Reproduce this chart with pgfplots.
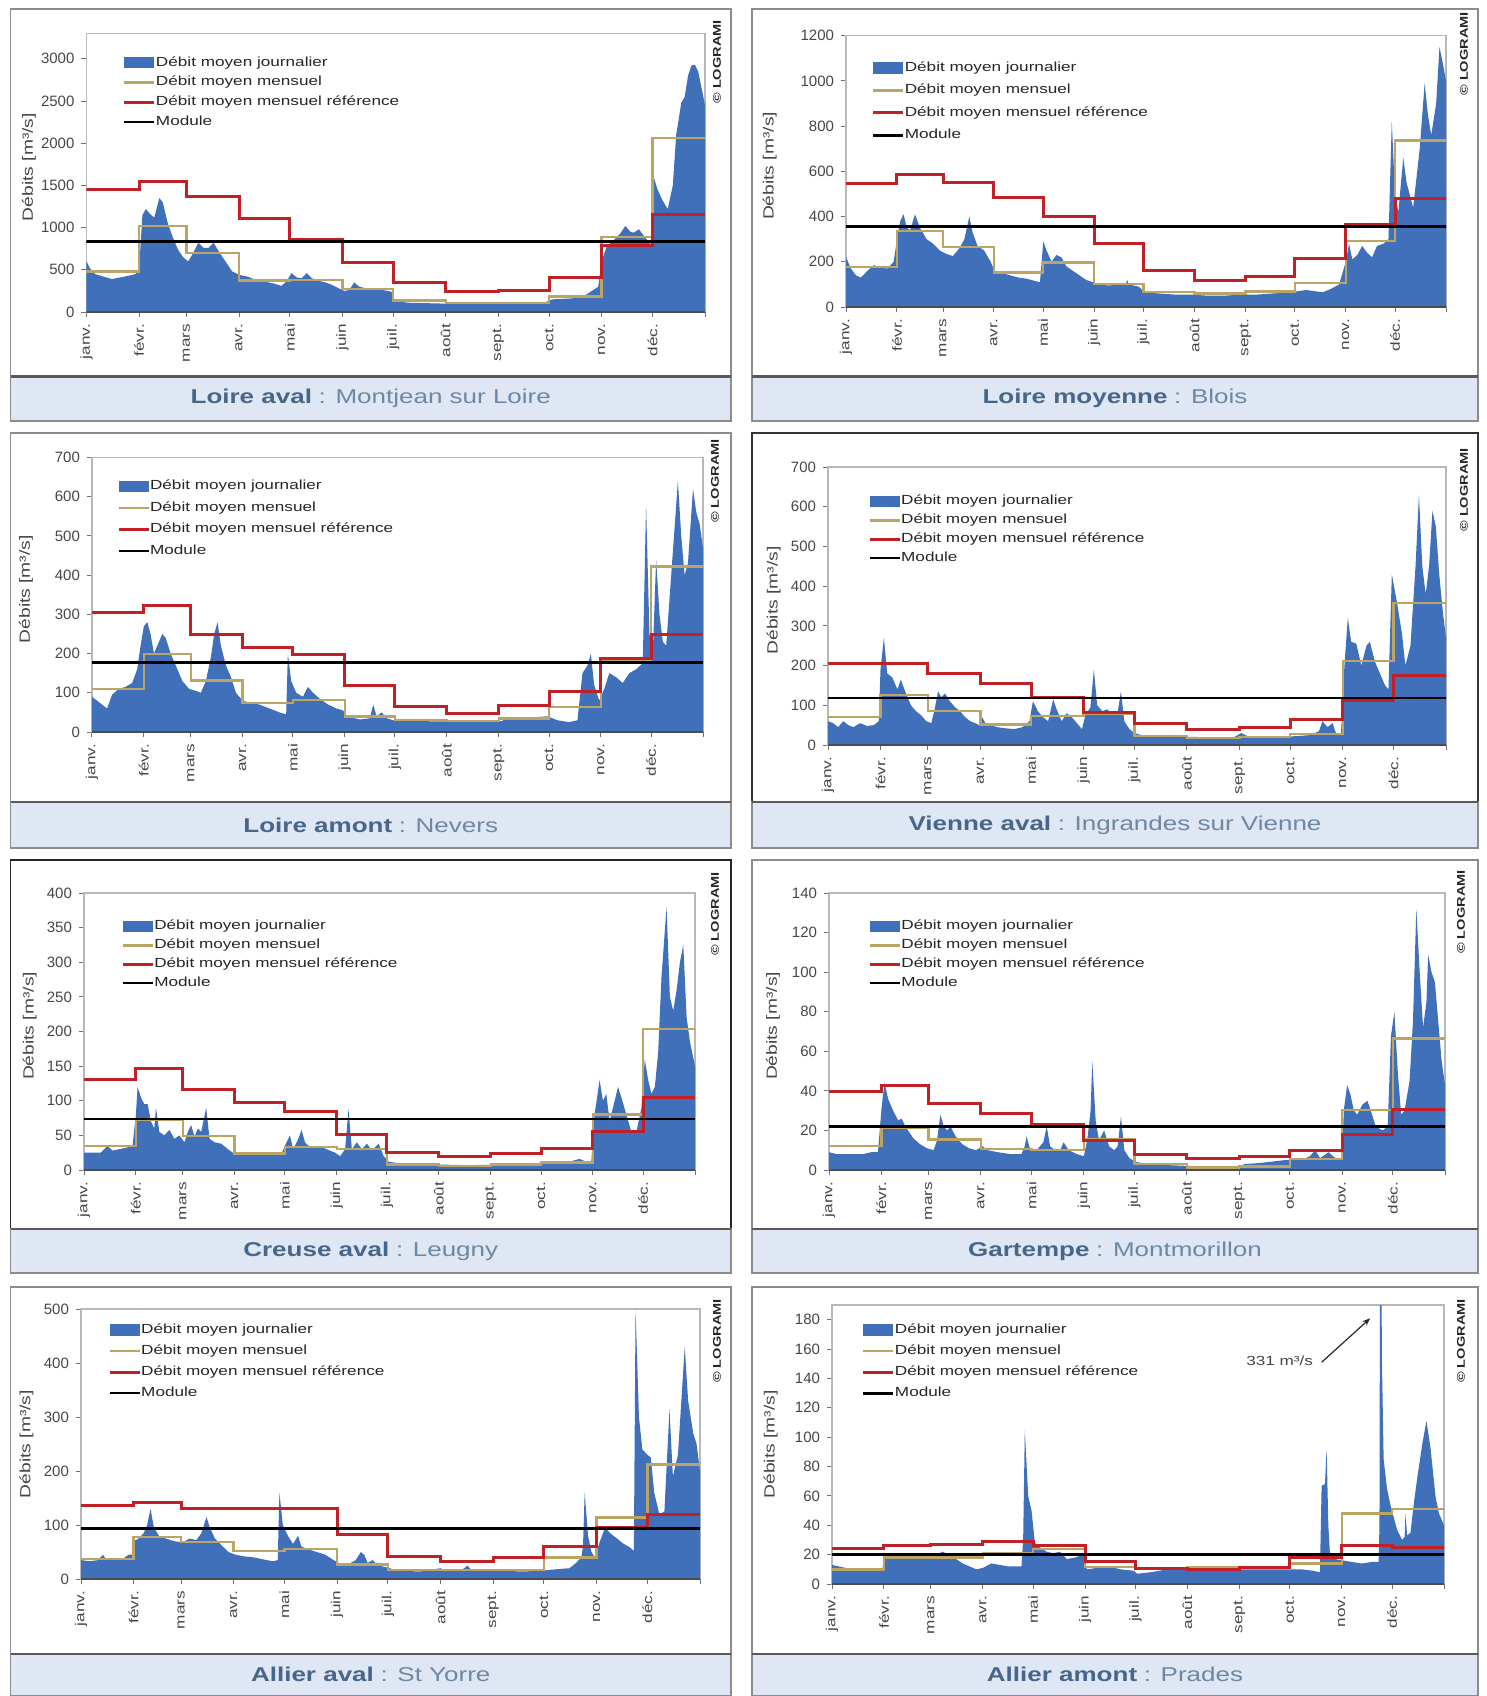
\documentclass[border=0pt]{standalone}
\usepackage{fontspec}
\setmainfont{Liberation Sans}
\newfontfamily\wf[FakeStretch=1.3]{Liberation Sans}
\usepackage{pgfplots}
\pgfplotsset{compat=1.18}
\usetikzlibrary{arrows.meta}
\definecolor{areablue}{RGB}{64,112,186}
\definecolor{khakiL}{RGB}{188,164,100}
\definecolor{refred}{RGB}{192,32,38}
\definecolor{framegray}{RGB}{140,140,140}
\definecolor{titlefill}{RGB}{222,231,243}
\definecolor{ttlA}{RGB}{72,102,138}
\definecolor{ttlB}{RGB}{110,135,162}
\definecolor{txt}{RGB}{70,70,70}
\pgfplotsset{
 flow/.style={
  scale only axis, xmin=0, xmax=365, ymin=0,
  axis line style={draw=black!28, line width=0.8pt},
  xtick={0,31,59,90,120,151,181,212,243,273,304,334},
  xticklabels={janv.,févr.,mars,avr.,mai,juin,juil.,août,sept.,oct.,nov.,déc.},
  extra x ticks={365}, extra x tick labels={},
  xtick pos=bottom, ytick pos=left, tick align=outside,
  major tick length=2.5pt,
  tick style={draw=black!55, line width=0.5pt},
  xticklabel style={rotate=90, anchor=east, font=\wf\fontsize{6.6}{7}\selectfont, text=txt},
  yticklabel style={font=\fontsize{7.5}{8}\selectfont, text=txt},
  /pgf/number format/assume math mode=true,
  /pgf/number format/1000 sep={},
  ylabel={Débits [m³/s]},
  every axis y label/.style={rotate=90, anchor=center, font=\wf\fontsize{7.4}{8}\selectfont, text=txt},
  legend cell align=left,
  legend style={draw=none, fill=none, anchor=north west, inner sep=0pt, outer sep=0pt,
    font=\wf\fontsize{6.6}{7.5}\selectfont, text=black!85, nodes={inner sep=0pt, outer sep=0pt}},
  legend image code/.code={\draw[##1] (0pt,0pt) -- (15pt,0pt);},
 },
 area/.style={fill=areablue, draw=none, legend image code/.code={\fill[areablue] (0pt,-2.9pt) rectangle (15pt,2.9pt);}},
 mmean/.style={draw=khakiL, line width=1.2pt, const plot, no marks},
 mref/.style={draw=refred, line width=1.5pt, const plot, no marks},
 module/.style={draw=black, line width=1.25pt, no marks},
}
\newcommand\titlebox[5]{%
  \fill[titlefill] (#1,#3) rectangle (#2,#4);
  \draw[framegray, line width=0.7pt] (#1,#3) rectangle (#2,#4);
  \draw[black!65, line width=1.3pt] (#1,#3) -- (#2,#3);
  \node[font=\wf\fontsize{10}{12}\selectfont] at ({(#1+#2)/2},{(#3+#4)/2}) {#5};
}
\newcommand\logr[2]{\node[rotate=90, font=\wf\bfseries\fontsize{5.6}{6}\selectfont, text=black!85] at (#1,#2) {© LOGRAMI};}
\newcommand\baseline{\draw[black!70, line width=0.8pt] (axis cs:0,0) -- (axis cs:365,0);}
\newcommand\ttl[2]{\textcolor{ttlA}{\bfseries #1}\textcolor{ttlB}{\,\,: #2}}
\begin{document}
\begin{tikzpicture}[x=0.5pt,y=-0.5pt]
\useasboundingbox (0,0) rectangle (1487,1696);
% ---- frames
\draw[framegray, line width=0.7pt] (10.5,9) rectangle (731,376.5);
\draw[framegray, line width=0.7pt] (752,9) rectangle (1478,376.5);
\draw[framegray, line width=0.7pt] (10.5,433) rectangle (731,802);
\draw[black!80, line width=0.7pt] (752,433) rectangle (1478,802);
\draw[black!85, line width=0.7pt] (10.5,860) rectangle (731,1229);
\draw[framegray, line width=0.7pt] (752,860) rectangle (1478,1229);
\draw[framegray, line width=0.7pt] (10.5,1287) rectangle (731,1654);
\draw[framegray, line width=0.7pt] (752,1287) rectangle (1478,1654);
\titlebox{10.5}{731}{376.5}{421}{\ttl{Loire aval}{Montjean sur Loire}}
\titlebox{752}{1478}{376.5}{421}{\ttl{Loire moyenne}{Blois}}
\titlebox{10.5}{731}{802}{848}{\ttl{Loire amont}{Nevers}}
\titlebox{752}{1478}{802}{848}{\ttl{Vienne aval}{Ingrandes sur Vienne}}
\titlebox{10.5}{731}{1229}{1273}{\ttl{Creuse aval}{Leugny}}
\titlebox{752}{1478}{1229}{1273}{\ttl{Gartempe}{Montmorillon}}
\titlebox{10.5}{731}{1654}{1695.5}{\ttl{Allier aval}{St Yorre}}
\titlebox{752}{1478}{1654}{1695.5}{\ttl{Allier amont}{Prades}}
\logr{717}{62}\logr{1464}{54}\logr{715}{481}\logr{1464}{490}
\logr{715}{914}\logr{1461}{912}\logr{717}{1341}\logr{1461}{1341}

% ---- P1 Loire aval
\begin{axis}[flow, at={(43.25pt,-156pt)}, anchor=south west, width=309.25pt, height=139.25pt,
  ymax=3300, ytick={0,500,...,3000},
  ylabel style={at={(axis description cs:-0.093,0.52)}},
  legend style={at={(0.059,0.918)}, row sep=3.5pt}]
\addplot[area] coordinates {(0,600) (2,520) (5,450) (10,420) (15,390) (20,410) (25,430) (29,450) (31,500) (33,1150) (35,1220) (38,1150) (40,1120) (43,1350) (45,1300) (48,1050) (51,880) (54,740) (57,650) (60,600) (63,700) (66,820) (69,760) (72,760) (75,820) (78,720) (82,600) (86,480) (90,440) (95,420) (100,380) (105,360) (110,340) (115,310) (118,360) (121,460) (124,410) (127,400) (130,460) (133,400) (137,370) (141,350) (145,320) (149,280) (152,250) (155,260) (158,350) (161,300) (165,280) (170,270) (175,260) (180,240) (182,130) (190,110) (200,105) (210,100) (220,100) (230,100) (240,105) (250,100) (260,105) (270,110) (275,150) (285,160) (292,170) (296,220) (299,260) (302,300) (304,600) (307,780) (311,850) (315,930) (318,1020) (321,950) (323,940) (326,980) (329,900) (333,800) (334,1650) (337,1450) (340,1320) (343,1220) (346,1500) (348,2100) (351,2480) (353,2550) (355,2800) (357,2920) (359,2930) (361,2850) (363,2650) (365,2450)} \closedcycle;
\addlegendentry{Débit moyen journalier}
\addplot[mmean] coordinates {(0,478) (31,1020) (59,698) (90,375) (120,378) (151,272) (181,137) (212,110) (243,110) (273,184) (304,890) (334,2059) (365,2059)};
\addlegendentry{Débit moyen mensuel}
\addplot[mref] coordinates {(0,1450) (31,1550) (59,1370) (90,1110) (120,860) (151,590) (181,350) (212,240) (243,260) (273,410) (304,790) (334,1150) (365,1150)};
\addlegendentry{Débit moyen mensuel référence}
\addplot[module] coordinates {(0,835) (365,835)};
\addlegendentry{Module}
\baseline
\end{axis}

% ---- P2 Blois
\begin{axis}[flow, at={(423pt,-153.5pt)}, anchor=south west, width=300pt, height=135.65pt,
  ymax=1200, ytick={0,200,...,1200},
  ylabel style={at={(axis description cs:-0.127,0.52)}},
  legend style={at={(0.043,0.905)}, row sep=4.9pt}]
\addplot[area] coordinates {(0,220) (3,170) (6,140) (9,130) (13,160) (17,185) (21,175) (25,170) (29,200) (31,300) (33,380) (35,410) (37,350) (39,340) (42,410) (45,350) (49,300) (53,280) (57,250) (61,235) (65,225) (69,260) (72,300) (75,400) (77,330) (80,270) (84,250) (88,200) (91,150) (95,150) (100,140) (105,130) (110,125) (115,115) (118,110) (120,290) (122,250) (125,200) (128,230) (131,220) (134,180) (138,160) (142,140) (146,120) (150,110) (153,100) (160,95) (166,100) (170,100) (171,120) (172,100) (178,90) (182,65) (190,60) (200,55) (210,55) (220,50) (230,50) (240,55) (250,55) (260,60) (270,65) (275,70) (280,75) (285,70) (290,65) (295,80) (300,100) (302,150) (304,200) (306,280) (308,210) (311,230) (314,270) (317,240) (320,220) (323,270) (327,280) (330,300) (332,820) (334,500) (336,420) (339,660) (341,550) (345,440) (349,700) (352,990) (354,850) (356,760) (359,900) (361,1150) (363,1080) (365,1000)} \closedcycle;
\addlegendentry{Débit moyen journalier}
\addplot[mmean] coordinates {(0,177) (31,336) (59,265) (90,152) (120,196) (151,103) (181,66) (212,59) (243,69) (273,106) (304,292) (334,736) (365,736)};
\addlegendentry{Débit moyen mensuel}
\addplot[mref] coordinates {(0,545) (31,585) (59,552) (90,483) (120,402) (151,283) (181,162) (212,116) (243,137) (273,213) (304,365) (334,482) (365,482)};
\addlegendentry{Débit moyen mensuel référence}
\addplot[module] coordinates {(0,356) (365,356)};
\addlegendentry{Module}
\baseline
\end{axis}

% ---- P3 Nevers
\begin{axis}[flow, at={(46pt,-366pt)}, anchor=south west, width=305.5pt, height=137.25pt,
  ymax=700, ytick={0,100,...,700},
  ylabel style={at={(axis description cs:-0.108,0.52)}},
  legend style={at={(0.041,0.918)}, row sep=4.4pt}]
\addplot[area] coordinates {(0,90) (3,80) (6,70) (9,60) (12,95) (16,110) (20,115) (24,125) (27,160) (29,220) (31,270) (33,280) (35,250) (37,200) (40,230) (42,250) (44,240) (47,200) (50,170) (54,130) (58,110) (62,105) (65,100) (68,130) (71,190) (73,250) (75,280) (77,220) (80,170) (83,140) (86,100) (90,80) (94,75) (100,70) (106,60) (112,50) (116,45) (117,200) (119,130) (122,100) (126,90) (129,115) (132,100) (136,85) (141,70) (146,60) (150,55) (152,40) (160,32) (166,35) (168,70) (170,40) (173,50) (176,35) (180,30) (190,28) (210,27) (230,27) (245,28) (248,38) (252,32) (265,38) (272,40) (278,30) (285,25) (290,30) (293,150) (296,170) (298,200) (300,120) (303,80) (306,110) (309,150) (313,140) (317,125) (321,150) (325,160) (329,175) (331,580) (333,250) (335,200) (337,440) (339,300) (341,230) (343,220) (346,400) (350,640) (352,500) (354,400) (356,430) (359,620) (361,560) (363,530) (365,470)} \closedcycle;
\addlegendentry{Débit moyen journalier}
\addplot[mmean] coordinates {(0,109) (31,199) (59,131) (90,74) (120,81) (151,40) (181,30) (212,28) (243,34) (273,64) (304,180) (334,422) (365,422)};
\addlegendentry{Débit moyen mensuel}
\addplot[mref] coordinates {(0,305) (31,322) (59,249) (90,216) (120,198) (151,119) (181,64) (212,48) (243,68) (273,104) (304,187) (334,249) (365,249)};
\addlegendentry{Débit moyen mensuel référence}
\addplot[module] coordinates {(0,177) (365,177)};
\addlegendentry{Module}
\baseline
\end{axis}

% ---- P4 Vienne
\begin{axis}[flow, at={(414pt,-372.5pt)}, anchor=south west, width=309pt, height=139pt,
  ymax=700, ytick={0,100,...,700},
  ylabel style={at={(axis description cs:-0.088,0.52)}},
  legend style={at={(0.065,0.899)}, row sep=3.1pt}]
\addplot[area] coordinates {(0,60) (3,55) (6,45) (9,60) (12,50) (15,45) (19,55) (23,48) (27,50) (30,60) (31,190) (33,270) (35,180) (38,170) (41,140) (43,165) (46,130) (49,100) (52,85) (55,75) (58,60) (61,55) (63,90) (65,135) (67,120) (69,130) (72,110) (75,95) (78,85) (81,70) (84,60) (87,55) (89,50) (91,70) (93,55) (96,50) (100,45) (105,42) (110,40) (115,45) (119,60) (121,110) (124,85) (127,70) (130,60) (133,115) (135,90) (138,60) (141,80) (144,70) (147,55) (150,40) (152,75) (155,95) (157,190) (159,100) (162,85) (165,90) (168,75) (171,80) (173,135) (175,60) (178,40) (181,30) (185,25) (200,22) (220,20) (240,20) (244,30) (248,22) (260,20) (275,22) (285,25) (290,35) (292,60) (295,45) (298,55) (300,30) (303,30) (305,200) (307,320) (309,260) (312,255) (315,200) (318,250) (320,260) (323,210) (326,180) (329,150) (331,140) (333,430) (336,360) (339,280) (341,200) (344,250) (347,450) (349,630) (351,450) (353,380) (355,450) (357,590) (359,550) (361,430) (363,340) (365,270)} \closedcycle;
\addlegendentry{Débit moyen journalier}
\addplot[mmean] coordinates {(0,70) (31,126) (59,86) (90,52) (120,73) (151,79) (181,23) (212,18) (243,20) (273,27) (304,212) (334,358) (365,358)};
\addlegendentry{Débit moyen mensuel}
\addplot[mref] coordinates {(0,205) (31,205) (59,180) (90,154) (120,119) (151,81) (181,55) (212,39) (243,45) (273,63) (304,111) (334,176) (365,176)};
\addlegendentry{Débit moyen mensuel référence}
\addplot[module] coordinates {(0,118) (365,118)};
\addlegendentry{Module}
\baseline
\end{axis}

% ---- P5 Creuse
\begin{axis}[flow, at={(42pt,-585pt)}, anchor=south west, width=305.5pt, height=138.5pt,
  ymax=400, ytick={0,50,...,400},
  ylabel style={at={(axis description cs:-0.089,0.52)}},
  legend style={at={(0.061,0.902)}, row sep=3.1pt}]
\addplot[area] coordinates {(0,25) (5,25) (10,25) (14,35) (17,28) (21,30) (25,32) (29,35) (31,80) (32,120) (34,105) (36,95) (38,95) (40,70) (42,60) (43,90) (45,55) (48,50) (51,58) (54,45) (57,50) (60,40) (62,55) (64,65) (66,48) (68,60) (70,55) (73,90) (75,45) (78,40) (82,38) (86,30) (90,23) (100,22) (110,22) (118,24) (121,40) (123,50) (125,30) (128,45) (130,58) (132,40) (135,33) (140,35) (145,30) (150,25) (153,20) (156,30) (158,88) (160,30) (163,40) (166,30) (169,38) (172,28) (176,38) (179,20) (182,12) (190,9) (210,8) (230,7) (250,8) (270,10) (290,12) (296,16) (300,12) (303,10) (305,80) (308,130) (310,100) (312,110) (314,70) (316,90) (319,120) (321,105) (324,80) (327,55) (330,55) (333,90) (335,160) (337,130) (339,110) (341,120) (343,170) (345,280) (348,380) (350,250) (352,230) (354,260) (356,300) (358,325) (360,220) (362,185) (365,150)} \closedcycle;
\addlegendentry{Débit moyen journalier}
\addplot[mmean] coordinates {(0,35) (31,72) (59,49) (90,24) (120,33) (151,30) (181,8) (212,6) (243,8) (273,11) (304,80) (334,204) (365,204)};
\addlegendentry{Débit moyen mensuel}
\addplot[mref] coordinates {(0,131) (31,146) (59,116) (90,97) (120,84) (151,51) (181,26) (212,19) (243,24) (273,31) (304,55) (334,105) (365,105)};
\addlegendentry{Débit moyen mensuel référence}
\addplot[module] coordinates {(0,74) (365,74)};
\addlegendentry{Module}
\baseline
\end{axis}

% ---- P6 Gartempe
\begin{axis}[flow, at={(414.5pt,-585pt)}, anchor=south west, width=308pt, height=138.5pt,
  ymax=140, ytick={0,20,...,140},
  ylabel style={at={(axis description cs:-0.091,0.52)}},
  legend style={at={(0.064,0.902)}, row sep=3.1pt}]
\addplot[area] coordinates {(0,9) (5,8) (10,8) (15,8) (20,8) (25,9) (29,9) (31,30) (32,38) (33,44) (35,36) (38,30) (41,25) (43,26) (46,21) (50,16) (54,13) (58,11) (62,10) (64,15) (66,28) (68,22) (70,20) (72,22) (75,17) (79,13) (83,11) (87,10) (91,12) (94,10) (100,9) (108,8) (114,8) (116,12) (117,17) (119,11) (123,10) (127,14) (129,22) (131,12) (134,10) (137,10) (139,14) (142,10) (147,8) (151,7) (153,15) (155,30) (156,55) (158,25) (160,15) (163,20) (166,12) (169,10) (171,12) (173,27) (175,10) (178,6) (182,4) (190,3) (200,2.5) (215,2) (235,1.5) (243,1) (246,3) (255,3.5) (270,5) (280,5) (285,7) (288,10) (291,6) (296,9) (300,6) (304,5) (305,30) (307,43) (309,38) (311,30) (313,28) (316,33) (319,35) (321,30) (324,22) (328,20) (331,22) (333,68) (335,80) (337,50) (339,28) (341,30) (344,45) (346,75) (348,132) (350,100) (352,72) (354,85) (355,109) (357,100) (359,95) (361,75) (363,55) (365,43)} \closedcycle;
\addlegendentry{Débit moyen journalier}
\addplot[mmean] coordinates {(0,12.1) (31,21.4) (59,15.5) (90,10.5) (120,10.1) (151,15.5) (181,2.9) (212,1.2) (243,1.7) (273,5.7) (304,30.4) (334,66.5) (365,66.5)};
\addlegendentry{Débit moyen mensuel}
\addplot[mref] coordinates {(0,39.6) (31,42.5) (59,33.7) (90,28.7) (120,23.1) (151,15.0) (181,7.9) (212,5.7) (243,6.7) (273,10.1) (304,18.0) (334,30.7) (365,30.7)};
\addlegendentry{Débit moyen mensuel référence}
\addplot[module] coordinates {(0,21.9) (365,21.9)};
\addlegendentry{Module}
\baseline
\end{axis}

% ---- P7 Allier aval
\begin{axis}[flow, at={(40.5pt,-789.5pt)}, anchor=south west, width=309.5pt, height=135pt,
  ymax=500, ytick={0,100,...,500},
  ylabel style={at={(axis description cs:-0.088,0.5)}},
  legend style={at={(0.044,0.946)}, row sep=4.2pt}]
\addplot[area] coordinates {(0,35) (5,33) (10,35) (13,45) (15,35) (20,35) (25,38) (28,45) (30,45) (31,70) (34,75) (37,85) (39,100) (41,130) (43,95) (46,80) (50,75) (55,70) (60,68) (64,75) (68,72) (71,85) (74,115) (76,95) (79,75) (83,62) (87,50) (91,45) (96,42) (102,40) (108,36) (113,33) (116,35) (117,160) (119,100) (122,80) (125,65) (128,80) (130,60) (134,55) (139,50) (144,45) (149,35) (153,28) (158,28) (162,35) (165,50) (167,45) (169,30) (172,35) (175,25) (180,22) (184,18) (190,15) (200,14) (212,20) (215,15) (225,18) (228,25) (230,17) (240,15) (250,15) (260,14) (270,15) (280,18) (288,20) (292,30) (295,40) (296,60) (297,160) (299,80) (301,50) (303,40) (306,70) (309,95) (312,85) (316,75) (320,65) (323,60) (325,55) (326,52) (327,500) (329,300) (331,240) (334,230) (336,225) (338,160) (341,120) (344,125) (347,315) (349,190) (352,230) (356,430) (358,330) (361,270) (363,250) (365,200)} \closedcycle;
\addlegendentry{Débit moyen journalier}
\addplot[mmean] coordinates {(0,37) (31,78) (59,69) (90,52) (120,56) (151,27) (181,17) (212,17) (243,17) (273,40) (304,114) (334,212) (365,212)};
\addlegendentry{Débit moyen mensuel}
\addplot[mref] coordinates {(0,136) (31,141) (59,131) (90,131) (120,131) (151,83) (181,41) (212,32) (243,40) (273,60) (304,95) (334,120) (365,120)};
\addlegendentry{Débit moyen mensuel référence}
\addplot[module] coordinates {(0,94) (365,94)};
\addlegendentry{Module}
\baseline
\end{axis}

% ---- P8 Prades
\begin{axis}[flow, at={(416pt,-792pt)}, anchor=south west, width=306pt, height=139.5pt,
  ymax=190, ytick={0,20,...,180},
  ylabel style={at={(axis description cs:-0.1,0.5)}},
  legend style={at={(0.049,0.933)}, row sep=4.2pt}]
\addplot[area] coordinates {(0,13) (4,12) (8,11) (12,10) (20,10) (28,10) (30,10) (31,17) (35,17) (40,18) (50,18) (58,18) (62,20) (66,22) (70,20) (74,17) (78,14) (82,12) (86,10) (90,11) (95,14) (100,13) (105,12) (110,12) (113,12) (114,30) (115,105) (117,60) (119,50) (121,28) (124,25) (128,22) (132,21) (136,22) (140,17) (145,18) (150,20) (152,10) (158,11) (165,12) (172,10) (180,9) (182,7) (190,8) (200,10) (215,11) (230,10) (245,10) (260,10) (273,10) (280,10) (287,9) (291,8) (292,67) (294,68) (295,92) (296,40) (297,20) (300,17) (305,16) (310,15) (316,14) (322,15) (326,15) (326.5,40) (327,331) (328,150) (329,85) (331,65) (333,54) (337,37) (340,30) (341.5,32) (342,48) (343,33) (345,35) (347,55) (349,72) (352,95) (354.5,111) (356,100) (357,92) (360,59) (362,48) (365,40)} \closedcycle;
\addlegendentry{Débit moyen journalier}
\addplot[mmean] coordinates {(0,10) (31,18) (59,18) (90,21) (120,24) (151,11.5) (181,11) (212,11.5) (243,11) (273,14) (304,48) (334,51) (365,51)};
\addlegendentry{Débit moyen mensuel}
\addplot[mref] coordinates {(0,24.4) (31,26) (59,27) (90,28.7) (120,26) (151,15.6) (181,10.3) (212,9.9) (243,11) (273,18) (304,26) (334,25) (365,25)};
\addlegendentry{Débit moyen mensuel référence}
\addplot[module] coordinates {(0,20.2) (365,20.2)};
\addlegendentry{Module}
\baseline
\node[font=\wf\fontsize{6.6}{7}\selectfont, text=txt] at (axis cs:267,152) {331 m³/s};
\draw[-{Stealth[length=4pt]}, line width=0.6pt, black!85] (axis cs:292,151) -- (axis cs:321,181);
\end{axis}
\end{tikzpicture}
\end{document}
